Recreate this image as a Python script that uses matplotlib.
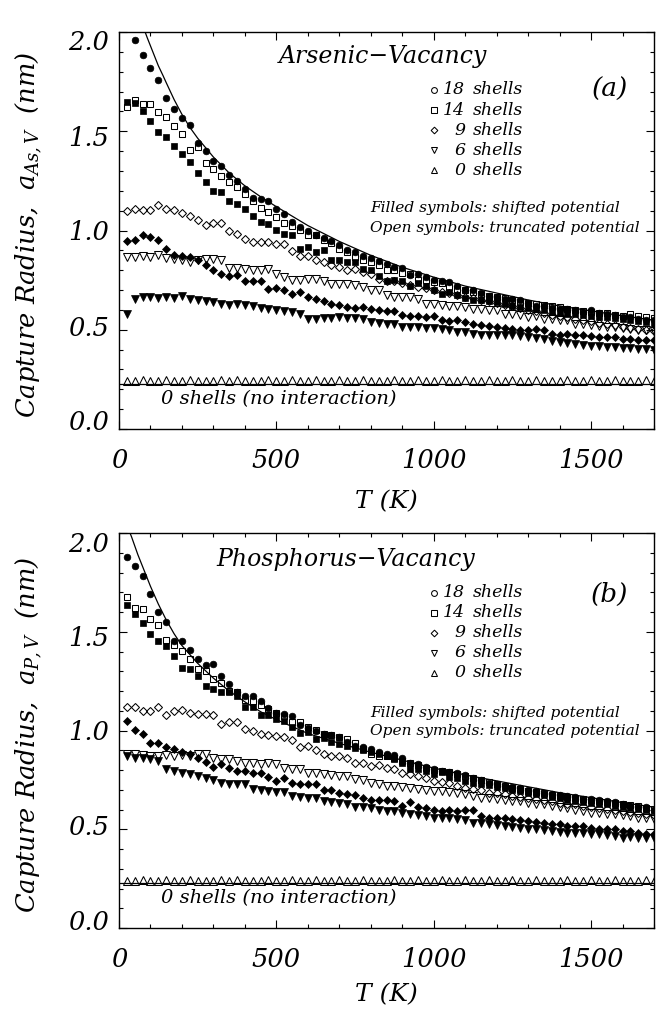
import numpy as np
import matplotlib
matplotlib.use('Agg')
import matplotlib.pyplot as plt
import matplotlib.transforms as mtransforms
from matplotlib.ticker import MultipleLocator

plt.rcParams['font.family'] = ['DejaVu Serif']
plt.rcParams['font.style'] = 'italic'
plt.rcParams['mathtext.fontset'] = 'dejavuserif'

# Temperature grid (K)
T = np.arange(25, 1725, 25)

# ---------------- Panel (a): Arsenic-Vacancy ----------------
a_18_shift = [
    np.nan, 1.96, 1.885, 1.82, 1.76, 1.67, 1.61, 1.565, 1.53, 1.44,
    1.40, 1.35, 1.325, 1.28, 1.25, 1.21, 1.165, 1.16, 1.15, 1.11,
    1.085, 1.045, 1.02, 1.00, 0.975, 0.96, 0.945, 0.925, 0.90, 0.89,
    0.87, 0.862, 0.845, 0.83, 0.815, 0.81, 0.775, 0.78, 0.765, 0.75,
    0.745, 0.74, 0.72, 0.70, 0.70, 0.685, 0.67, 0.665, 0.656, 0.655,
    0.648, 0.635, 0.62, 0.618, 0.61, 0.607, 0.605, 0.598, 0.59, 0.597,
    0.585, 0.58, 0.572, 0.565, 0.563, 0.555, 0.55, 0.547]
a_14_trunc = [
    1.623, 1.657, 1.635, 1.635, 1.598, 1.573, 1.525, 1.488, 1.404, 1.42,
    1.341, 1.311, 1.274, 1.243, 1.218, 1.184, 1.15, 1.113, 1.091, 1.07,
    1.04, 1.025, 1.005, 0.975, 0.975, 0.95, 0.935, 0.905, 0.89, 0.865,
    0.85, 0.84, 0.825, 0.80, 0.80, 0.785, 0.78, 0.75, 0.75, 0.74,
    0.735, 0.715, 0.705, 0.70, 0.69, 0.68, 0.67, 0.665, 0.66, 0.65,
    0.64, 0.635, 0.63, 0.625, 0.62, 0.615, 0.605, 0.60, 0.595, 0.59,
    0.585, 0.585, 0.575, 0.57, 0.58, 0.57, 0.565, 0.56]
a_14_shift = [
    1.645, 1.64, 1.60, 1.552, 1.497, 1.471, 1.426, 1.383, 1.345, 1.289,
    1.243, 1.20, 1.193, 1.151, 1.131, 1.109, 1.075, 1.042, 1.034, 1.003,
    0.983, 0.975, 0.908, 0.916, 0.891, 0.90, 0.849, 0.849, 0.84, 0.84,
    0.807, 0.80, 0.773, 0.748, 0.75, 0.748, 0.72, 0.735, 0.72, 0.698,
    0.68, 0.69, 0.673, 0.66, 0.648, 0.65, 0.645, 0.64, 0.63, 0.62,
    0.614, 0.61, 0.606, 0.60, 0.589, 0.585, 0.58, 0.58, 0.575, 0.57,
    0.564, 0.565, 0.56, 0.555, 0.547, 0.545, 0.539, 0.53]
a_9_trunc = [
    1.097, 1.109, 1.104, 1.104, 1.126, 1.109, 1.104, 1.089, 1.075, 1.054,
    1.03, 1.037, 1.039, 1.0, 0.983, 0.958, 0.941, 0.941, 0.941, 0.933,
    0.933, 0.896, 0.874, 0.874, 0.849, 0.84, 0.824, 0.815, 0.80, 0.807,
    0.79, 0.782, 0.757, 0.748, 0.745, 0.735, 0.725, 0.715, 0.71, 0.70,
    0.69, 0.685, 0.675, 0.665, 0.66, 0.65, 0.645, 0.635, 0.625, 0.62,
    0.61, 0.60, 0.595, 0.585, 0.575, 0.57, 0.565, 0.555, 0.55, 0.545,
    0.535, 0.53, 0.525, 0.515, 0.51, 0.505, 0.50, 0.495]
a_9_shift = [
    0.946, 0.953, 0.975, 0.966, 0.953, 0.908, 0.879, 0.874, 0.869, 0.852,
    0.824, 0.80, 0.782, 0.773, 0.777, 0.748, 0.745, 0.748, 0.706, 0.711,
    0.698, 0.678, 0.69, 0.664, 0.656, 0.644, 0.631, 0.627, 0.617, 0.611,
    0.614, 0.606, 0.60, 0.594, 0.594, 0.572, 0.567, 0.567, 0.564, 0.567,
    0.547, 0.544, 0.548, 0.539, 0.53, 0.522, 0.517, 0.513, 0.51, 0.505,
    0.50, 0.497, 0.505, 0.50, 0.48, 0.476, 0.48, 0.476, 0.476, 0.466,
    0.463, 0.463, 0.463, 0.455, 0.455, 0.446, 0.448, 0.446]
a_6_trunc = [
    0.866, 0.866, 0.871, 0.869, 0.879, 0.862, 0.857, 0.849, 0.84, 0.849,
    0.854, 0.857, 0.849, 0.812, 0.812, 0.807, 0.799, 0.799, 0.807, 0.779,
    0.765, 0.753, 0.753, 0.757, 0.757, 0.748, 0.732, 0.728, 0.732, 0.723,
    0.715, 0.698, 0.698, 0.673, 0.664, 0.664, 0.664, 0.656, 0.631, 0.631,
    0.627, 0.622, 0.622, 0.617, 0.606, 0.606, 0.597, 0.597, 0.58, 0.58,
    0.572, 0.564, 0.57, 0.555, 0.552, 0.55, 0.547, 0.53, 0.53, 0.525,
    0.52, 0.515, 0.515, 0.51, 0.505, 0.50, 0.50, 0.495]
a_6_shift = [
    0.58, 0.656, 0.664, 0.664, 0.661, 0.664, 0.661, 0.668, 0.656, 0.648,
    0.644, 0.639, 0.631, 0.627, 0.631, 0.627, 0.622, 0.609, 0.606, 0.597,
    0.594, 0.589, 0.58, 0.555, 0.555, 0.56, 0.56, 0.564, 0.56, 0.56,
    0.555, 0.539, 0.534, 0.53, 0.53, 0.513, 0.513, 0.513, 0.51, 0.51,
    0.505, 0.497, 0.488, 0.488, 0.48, 0.472, 0.476, 0.476, 0.472, 0.472,
    0.47, 0.465, 0.46, 0.455, 0.445, 0.44, 0.435, 0.43, 0.425, 0.42,
    0.418, 0.415, 0.412, 0.41, 0.408, 0.405, 0.402, 0.40]
a_0 = [
    0.244, 0.242, 0.246, 0.244, 0.241, 0.245, 0.244, 0.243, 0.247, 0.244,
    0.242, 0.244, 0.245, 0.243, 0.246, 0.244, 0.242, 0.244, 0.245, 0.243,
    0.244, 0.246, 0.242, 0.244, 0.245, 0.244, 0.243, 0.246, 0.244, 0.242,
    0.245, 0.244, 0.243, 0.244, 0.246, 0.242, 0.244, 0.245, 0.243, 0.244,
    0.246, 0.244, 0.242, 0.245, 0.244, 0.243, 0.246, 0.244, 0.242, 0.245,
    0.244, 0.243, 0.246, 0.244, 0.242, 0.244, 0.245, 0.244, 0.243, 0.246,
    0.244, 0.242, 0.245, 0.244, 0.243, 0.244, 0.246, 0.244]
a_noint = 0.229
a_curve_T = [83, 90, 100, 110, 125, 140, 150, 175, 200, 225, 250, 300, 350, 400,
             450, 500, 600, 700, 800, 900, 1000, 1100, 1200, 1300, 1400, 1500,
             1600, 1700]
a_curve_v = [2.0, 1.97, 1.93, 1.89, 1.83, 1.78, 1.745, 1.66, 1.585, 1.52, 1.465,
             1.37, 1.29, 1.225, 1.17, 1.12, 1.025, 0.945, 0.875, 0.815, 0.765,
             0.72, 0.685, 0.65, 0.62, 0.595, 0.57, 0.548]

# ---------------- Panel (b): Phosphorus-Vacancy ----------------
b_18_shift = [
    1.88, 1.835, 1.78, 1.69, 1.60, 1.55, 1.455, 1.455, 1.41, 1.36,
    1.33, 1.335, 1.275, 1.235, 1.195, 1.175, 1.175, 1.15, 1.115, 1.09,
    1.085, 1.075, 1.03, 1.012, 1.0, 0.983, 0.975, 0.965, 0.94, 0.922,
    0.915, 0.904, 0.89, 0.882, 0.875, 0.86, 0.837, 0.828, 0.815, 0.805,
    0.795, 0.79, 0.786, 0.775, 0.761, 0.75, 0.736, 0.73, 0.719, 0.715,
    0.707, 0.70, 0.694, 0.685, 0.677, 0.673, 0.668, 0.663, 0.655, 0.652,
    0.646, 0.643, 0.64, 0.63, 0.618, 0.615, 0.613, 0.60]
b_14_trunc = [
    1.677, 1.622, 1.617, 1.563, 1.533, 1.459, 1.432, 1.403, 1.361, 1.311,
    1.299, 1.26, 1.24, 1.202, 1.193, 1.156, 1.15, 1.129, 1.109, 1.089,
    1.072, 1.042, 1.042, 1.017, 1.005, 0.983, 0.975, 0.965, 0.955, 0.935,
    0.905, 0.882, 0.87, 0.87, 0.86, 0.845, 0.835, 0.825, 0.811, 0.80,
    0.795, 0.79, 0.78, 0.77, 0.76, 0.75, 0.74, 0.73, 0.72, 0.71,
    0.705, 0.695, 0.69, 0.685, 0.675, 0.67, 0.665, 0.66, 0.655, 0.65,
    0.645, 0.64, 0.635, 0.63, 0.625, 0.62, 0.61, 0.605]
b_14_shift = [
    1.635, 1.588, 1.546, 1.487, 1.454, 1.429, 1.378, 1.314, 1.311, 1.277,
    1.227, 1.21, 1.197, 1.193, 1.176, 1.118, 1.12, 1.076, 1.076, 1.06,
    1.047, 1.02, 0.988, 0.993, 0.955, 0.96, 0.941, 0.933, 0.921, 0.912,
    0.899, 0.892, 0.879, 0.87, 0.855, 0.837, 0.803, 0.803, 0.795, 0.778,
    0.79, 0.765, 0.76, 0.745, 0.736, 0.73, 0.725, 0.715, 0.71, 0.70,
    0.695, 0.685, 0.68, 0.672, 0.665, 0.66, 0.65, 0.643, 0.64, 0.635,
    0.63, 0.626, 0.62, 0.615, 0.609, 0.605, 0.60, 0.593]
b_9_trunc = [
    1.118, 1.118, 1.101, 1.101, 1.118, 1.076, 1.101, 1.106, 1.089, 1.084,
    1.084, 1.079, 1.034, 1.042, 1.042, 1.008, 1.0, 0.983, 0.975, 0.97,
    0.965, 0.95, 0.916, 0.92, 0.899, 0.879, 0.87, 0.87, 0.859, 0.837,
    0.835, 0.82, 0.825, 0.811, 0.803, 0.786, 0.781, 0.769, 0.758, 0.744,
    0.74, 0.736, 0.719, 0.707, 0.705, 0.70, 0.685, 0.682, 0.677, 0.67,
    0.665, 0.66, 0.655, 0.65, 0.643, 0.635, 0.63, 0.626, 0.62, 0.615,
    0.61, 0.605, 0.60, 0.59, 0.585, 0.58, 0.575, 0.57]
b_9_shift = [
    1.047, 1.005, 0.983, 0.938, 0.938, 0.916, 0.904, 0.892, 0.879, 0.862,
    0.842, 0.815, 0.828, 0.811, 0.795, 0.795, 0.786, 0.786, 0.764, 0.744,
    0.758, 0.736, 0.731, 0.731, 0.731, 0.697, 0.697, 0.685, 0.68, 0.673,
    0.657, 0.646, 0.646, 0.646, 0.643, 0.618, 0.64, 0.613, 0.606, 0.60,
    0.593, 0.595, 0.593, 0.60, 0.595, 0.567, 0.559, 0.559, 0.556, 0.553,
    0.545, 0.542, 0.539, 0.534, 0.529, 0.525, 0.517, 0.515, 0.515, 0.508,
    0.50, 0.50, 0.50, 0.492, 0.49, 0.483, 0.478, 0.478]
b_6_trunc = [
    0.882, 0.879, 0.875, 0.87, 0.87, 0.875, 0.87, 0.875, 0.87, 0.879,
    0.879, 0.862, 0.854, 0.854, 0.845, 0.837, 0.837, 0.832, 0.837, 0.832,
    0.811, 0.803, 0.803, 0.786, 0.786, 0.778, 0.775, 0.769, 0.769, 0.753,
    0.75, 0.736, 0.727, 0.719, 0.719, 0.714, 0.707, 0.705, 0.697, 0.694,
    0.694, 0.69, 0.685, 0.68, 0.668, 0.66, 0.658, 0.652, 0.65, 0.643,
    0.643, 0.635, 0.626, 0.626, 0.618, 0.613, 0.61, 0.60, 0.593, 0.584,
    0.584, 0.579, 0.576, 0.572, 0.567, 0.559, 0.556, 0.55]
b_6_shift = [
    0.87, 0.862, 0.859, 0.854, 0.845, 0.803, 0.795, 0.786, 0.781, 0.769,
    0.761, 0.747, 0.736, 0.731, 0.727, 0.727, 0.702, 0.697, 0.694, 0.69,
    0.69, 0.668, 0.663, 0.657, 0.657, 0.643, 0.64, 0.635, 0.626, 0.613,
    0.613, 0.609, 0.60, 0.593, 0.593, 0.584, 0.576, 0.572, 0.567, 0.559,
    0.556, 0.556, 0.55, 0.545, 0.534, 0.534, 0.529, 0.522, 0.517, 0.512,
    0.508, 0.50, 0.502, 0.495, 0.492, 0.488, 0.483, 0.483, 0.48, 0.478,
    0.475, 0.471, 0.466, 0.458, 0.46, 0.455, 0.458, 0.455]
b_0 = [
    0.240, 0.238, 0.242, 0.240, 0.237, 0.241, 0.240, 0.239, 0.243, 0.240,
    0.238, 0.240, 0.241, 0.239, 0.242, 0.240, 0.238, 0.240, 0.241, 0.239,
    0.240, 0.242, 0.238, 0.240, 0.241, 0.240, 0.239, 0.242, 0.240, 0.238,
    0.241, 0.240, 0.239, 0.240, 0.242, 0.238, 0.240, 0.241, 0.239, 0.240,
    0.242, 0.240, 0.238, 0.241, 0.240, 0.239, 0.242, 0.240, 0.238, 0.241,
    0.240, 0.239, 0.242, 0.240, 0.238, 0.240, 0.241, 0.240, 0.239, 0.242,
    0.240, 0.238, 0.241, 0.240, 0.239, 0.240, 0.242, 0.240]
b_noint = 0.226
b_curve_T = [35, 40, 50, 60, 75, 90, 100, 125, 150, 175, 200, 250, 300, 350, 400,
             450, 500, 600, 700, 800, 900, 1000, 1100, 1200, 1300, 1400, 1500,
             1600, 1700]
b_curve_v = [2.0, 1.98, 1.935, 1.89, 1.83, 1.77, 1.73, 1.64, 1.56, 1.49, 1.43,
             1.34, 1.265, 1.20, 1.145, 1.095, 1.055, 0.985, 0.935, 0.89, 0.85,
             0.81, 0.775, 0.745, 0.715, 0.685, 0.66, 0.635, 0.612]

legend_numbers = ['18', '14', '9', '6', '0']
legend_markers = ['o', 's', 'D', 'v', '^']
y_ticks = [0.0, 0.5, 1.0, 1.5, 2.0]
x_ticks = [0, 500, 1000, 1500]

fig = plt.figure(figsize=(6.62, 10.14), dpi=100)
W, H = 662.0, 1014.0
ax_a = fig.add_axes([119 / W, 1 - 429 / H, 535 / W, 397 / H])
ax_b = fig.add_axes([119 / W, 1 - 928 / H, 535 / W, 395 / H])

FS_TICK = 18.5
open_kw = dict(ls='none', mfc='none', mec='black', mew=0.75, clip_on=True)
fill_kw = dict(ls='none', mfc='black', mec='black', mew=0.5, clip_on=True)


def draw_panel(ax, s18f, s14o, s14f, s9o, s9f, s6o, s6f, s0, noint,
               cT, cv, title, tag, ylab, title_x, title_y, tag_y, leg_y0,
               filled_y, open_y, xlab_y):
    ax.axhline(noint, color='black', lw=0.9, zorder=2)
    ax.plot(cT, cv, color='black', lw=0.9, zorder=3)
    ax.plot(T, s0, marker='^', ms=6.0, zorder=4, **open_kw)
    ax.plot(T, s6o, marker='v', ms=6.0, zorder=4, **open_kw)
    ax.plot(T, s6f, marker='v', ms=5.2, zorder=5, **fill_kw)
    ax.plot(T, s9o, marker='D', ms=4.0, zorder=4, **open_kw)
    ax.plot(T, s9f, marker='D', ms=3.6, zorder=5, **fill_kw)
    ax.plot(T, s14o, marker='s', ms=4.8, zorder=4, **open_kw)
    ax.plot(T, s14f, marker='s', ms=4.6, zorder=5, **fill_kw)
    ax.plot(T, s18f, marker='o', ms=4.8, zorder=6, **fill_kw)

    ax.set_xlim(0, 1700)
    ax.set_ylim(0, 2.0)
    ax.set_xticks(x_ticks)
    ax.set_xticklabels([str(v) for v in x_ticks])
    ax.xaxis.set_minor_locator(MultipleLocator(100))
    ax.set_yticks(y_ticks)
    ax.yaxis.set_minor_locator(MultipleLocator(0.1))
    ax.tick_params(which='both', direction='in', top=True, right=True,
                   width=0.8, labelsize=FS_TICK)
    ax.tick_params(which='major', length=6)
    ax.tick_params(which='minor', length=3)
    ax.tick_params(axis='x', pad=14)
    ax.tick_params(axis='y', labelleft=False)
    for sp in ax.spines.values():
        sp.set_linewidth(1.0)

    # y tick labels, slightly compressed toward the middle as in the original
    base = mtransforms.blended_transform_factory(ax.transAxes, ax.transData)
    for v in y_ticks:
        dy = (-6.0 + 8.5 * v) / 100.0  # inches downward
        tr = base + mtransforms.ScaledTranslation(0, -dy, fig.dpi_scale_trans)
        ax.text(-0.018, v, '%.1f' % v, transform=tr, fontsize=FS_TICK,
                ha='right', va='center')

    ax.set_xlabel('T (K)', fontsize=18)
    ax.xaxis.set_label_coords(0.5, xlab_y)
    ax.set_ylabel(ylab, fontsize=18.5)
    ax.yaxis.set_label_coords(-0.14, 0.49)

    ax.text(title_x, title_y, title, fontsize=17, ha='center', va='center')
    ax.text(1560, tag_y, tag, fontsize=19, ha='center', va='center')

    for i, (num, mk) in enumerate(zip(legend_numbers, legend_markers)):
        yy = leg_y0 - i * 0.101
        msz = {'o': 4.2, 's': 4.2, 'D': 3.4, 'v': 5.0, '^': 5.0}[mk]
        ax.plot([1000], [yy], marker=mk, ms=msz, ls='none', mfc='none',
                mec='black', mew=0.75)
        ax.text(1100, yy, num, fontsize=12.5, ha='right', va='center')
        ax.text(1125, yy, 'shells', fontsize=12.5, ha='left', va='center')

    ax.text(797, filled_y, 'Filled symbols: shifted potential', fontsize=11.1,
            ha='left', va='center')
    ax.text(797, open_y, 'Open symbols: truncated potential', fontsize=11.1,
            ha='left', va='center')
    ax.text(135, 0.15, '0 shells (no interaction)', fontsize=14,
            ha='left', va='center')


draw_panel(ax_a, a_18_shift, a_14_trunc, a_14_shift, a_9_trunc, a_9_shift,
           a_6_trunc, a_6_shift, a_0, a_noint, a_curve_T, a_curve_v,
           'Arsenic\u2212Vacancy', '(a)',
           r'Capture Radius,  $a_{\mathrm{As,V}}$  (nm)',
           840, 1.877, 1.71, 1.708, 1.115, 1.012, -0.155)
draw_panel(ax_b, b_18_shift, b_14_trunc, b_14_shift, b_9_trunc, b_9_shift,
           b_6_trunc, b_6_shift, b_0, b_noint, b_curve_T, b_curve_v,
           'Phosphorus\u2212Vacancy', '(b)',
           r'Capture Radius,  $a_{P,V}$  (nm)',
           720, 1.866, 1.69, 1.697, 1.09, 0.995, -0.14)

fig.savefig('out.png', dpi=100)
